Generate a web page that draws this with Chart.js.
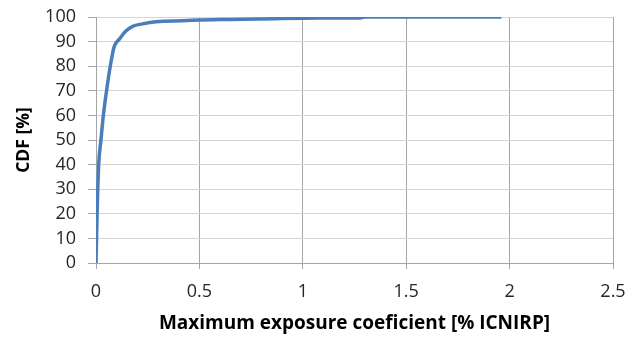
<!DOCTYPE html>
<html>
<head>
<meta charset="utf-8">
<script src="https://cdn.jsdelivr.net/npm/chart.js@4/dist/chart.umd.min.js"></script>
<style>
  html, body { margin: 0; padding: 0; background: #ffffff; }
  #wrap { width: 639px; height: 339px; position: relative; }
</style>
</head>
<body>
<div id="wrap"><canvas id="c"></canvas></div>
<script>
// Exposure coefficient values [% ICNIRP]
const exposureValues = [0, 0.005, 0.013, 0.024, 0.035, 0.045, 0.056, 0.069, 0.088, 0.113, 0.142, 0.177, 0.225, 0.29, 0.418, 0.596, 0.79, 1.08, 1.27, 1.30, 1.96];
// CDF values [%]
const cdfValues = [0, 19, 40, 50, 59.6, 66.4, 73, 80, 88, 91, 94.1, 96.2, 97.2, 98.1, 98.5, 99.0, 99.2, 99.6, 99.6, 100, 100];
// Axis ticks
const xTicks = [0, 0.5, 1, 1.5, 2, 2.5];
const yTicks = [0, 10, 20, 30, 40, 50, 60, 70, 80, 90, 100];
const xTitle = 'Maximum exposure coeficient [% ICNIRP]';
const yTitle = 'CDF [%]';

const points = exposureValues.map((x, i) => ({ x: x, y: cdfValues[i] }));

new Chart(document.getElementById('c'), {
  type: 'scatter',
  data: {
    datasets: [{
      data: points,
      showLine: true,
      borderColor: '#4a7ebb',
      backgroundColor: '#4a7ebb',
      borderWidth: 3.5,
      pointRadius: 0,
      cubicInterpolationMode: 'monotone'
    }]
  },
  options: {
    responsive: true,
    maintainAspectRatio: false,
    devicePixelRatio: 1,
    animation: false,
    layout: { padding: { top: 17, right: 26, left: 0, bottom: 0 } },
    plugins: { legend: { display: false }, tooltip: { enabled: false } },
    scales: {
      x: {
        type: 'linear',
        min: 0, max: 2.5,
        afterBuildTicks: (s) => { s.ticks = xTicks.map(v => ({ value: v })); },
        afterFit: (s) => { s.height = 76; s.paddingLeft = 0; s.paddingRight = 0; },
        ticks: {
          color: '#262626',
          font: { family: 'Open Sans', size: 18 },
          padding: 12,
          maxRotation: 0,
          autoSkip: false,
          callback: (v) => String(v)
        },
        grid: { color: '#a6a6a6', lineWidth: 1, tickLength: 6, tickColor: '#a6a6a6' },
        border: { color: '#a6a6a6', width: 1 },
        title: {
          display: true,
          text: xTitle,
          color: '#000000',
          font: { family: 'Open Sans', size: 19, weight: 'bold' },
          padding: { top: 0, bottom: 4 }
        }
      },
      y: {
        type: 'linear',
        min: 0, max: 100,
        afterBuildTicks: (s) => { s.ticks = yTicks.map(v => ({ value: v })); },
        afterFit: (s) => { s.width = 96; s.paddingTop = 0; s.paddingBottom = 0; },
        ticks: {
          color: '#262626',
          font: { family: 'Open Sans', size: 18 },
          padding: 12,
          autoSkip: false,
          callback: (v) => String(v)
        },
        grid: { color: '#d4d4d4', lineWidth: 1, tickLength: 8, tickColor: '#a6a6a6' },
        border: { color: '#a6a6a6', width: 1 },
        title: {
          display: true,
          text: yTitle,
          color: '#000000',
          font: { family: 'Open Sans', size: 17.5, weight: 'bold' },
          padding: { top: 14, bottom: 0 }
        }
      }
    }
  }
});
</script>
</body>
</html>
